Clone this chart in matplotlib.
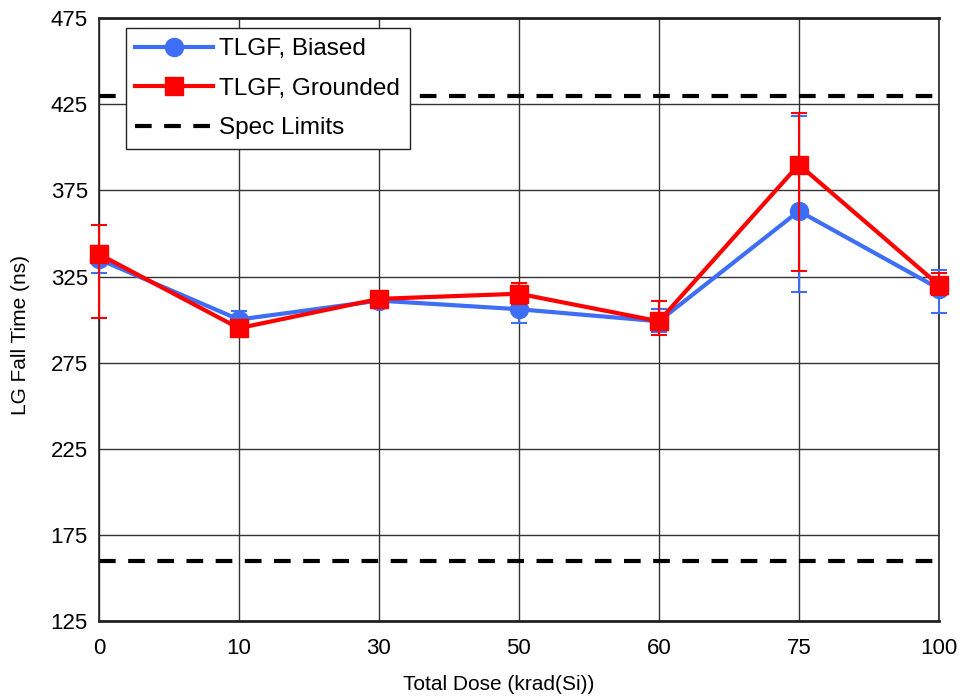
import matplotlib.pyplot as plt
from matplotlib.lines import Line2D
import numpy as np

plt.rcParams['font.family'] = ['Liberation Sans', 'DejaVu Sans']

# Data
doses = ["0", "10", "30", "50", "60", "75", "100"]
biased = [335, 300, 311, 306, 299, 363, 318]
biased_lo = [8, 5, 4, 8, 6, 47, 14]
biased_hi = [8, 5, 5, 6, 7, 55, 11]
grounded = [338, 295, 312, 315, 299, 390, 320]
grounded_lo = [37, 4, 4, 6, 8, 62, 6]
grounded_hi = [17, 4, 4, 6, 12, 30, 7]
spec_limits = [430, 160]
y_ticks = [125, 175, 225, 275, 325, 375, 425, 475]

blue = '#3d6ef5'
red = '#ff0000'
dash = (0, (4, 3))

fig = plt.figure(figsize=(9.6, 7.0), dpi=100)
ax = fig.add_axes([0.103, 0.113, 0.875, 0.861])

x = np.arange(len(doses))

ax.errorbar(x, biased, yerr=[biased_lo, biased_hi], color=blue, marker='o',
            markersize=13, linewidth=3, elinewidth=1.5, capsize=6, capthick=1.5,
            zorder=3, clip_on=False)
ax.errorbar(x, grounded, yerr=[grounded_lo, grounded_hi], color=red, marker='s',
            markersize=13, linewidth=3, elinewidth=1.5, capsize=6, capthick=1.5,
            zorder=4, clip_on=False)
for s in spec_limits:
    ax.axhline(s, color='black', linestyle=dash, linewidth=3, zorder=2)

ax.set_xlim(0, len(doses) - 1)
ax.set_ylim(125, 475)
ax.set_xticks(x)
ax.set_xticklabels(doses)
ax.set_yticks(y_ticks)
ax.tick_params(length=0, labelsize=16, pad=12)
ax.tick_params(axis='y', pad=8)
ax.grid(True, color='#333333', linewidth=1)
ax.set_axisbelow(True)
for sp in ax.spines.values():
    sp.set_color('#222222')
    sp.set_linewidth(1.2)
ax.spines['bottom'].set_linewidth(2)
ax.spines['top'].set_linewidth(2)

ax.set_xlabel('Total Dose (krad(Si))', fontsize=15)
ax.set_ylabel('LG Fall Time (ns)', fontsize=15)
ax.xaxis.set_label_coords(0.476, -0.09)
ax.yaxis.set_label_coords(-0.082, 0.474)

handles = [
    Line2D([], [], color=blue, marker='o', markersize=13, linewidth=3),
    Line2D([], [], color=red, marker='s', markersize=13, linewidth=3),
    Line2D([], [], color='black', linestyle=dash, linewidth=3),
]
labels = ['TLGF, Biased', 'TLGF, Grounded', 'Spec Limits']
leg = ax.legend(handles, labels, loc='upper left', bbox_to_anchor=(0.032, 0.983),
                borderaxespad=0, fontsize=17.5, frameon=True, fancybox=False,
                edgecolor='#222222', framealpha=1, handlelength=3.2,
                handletextpad=0.25, borderpad=0.4, labelspacing=0.72)
leg.get_frame().set_linewidth(1)

fig.savefig('out.png', dpi=100)
